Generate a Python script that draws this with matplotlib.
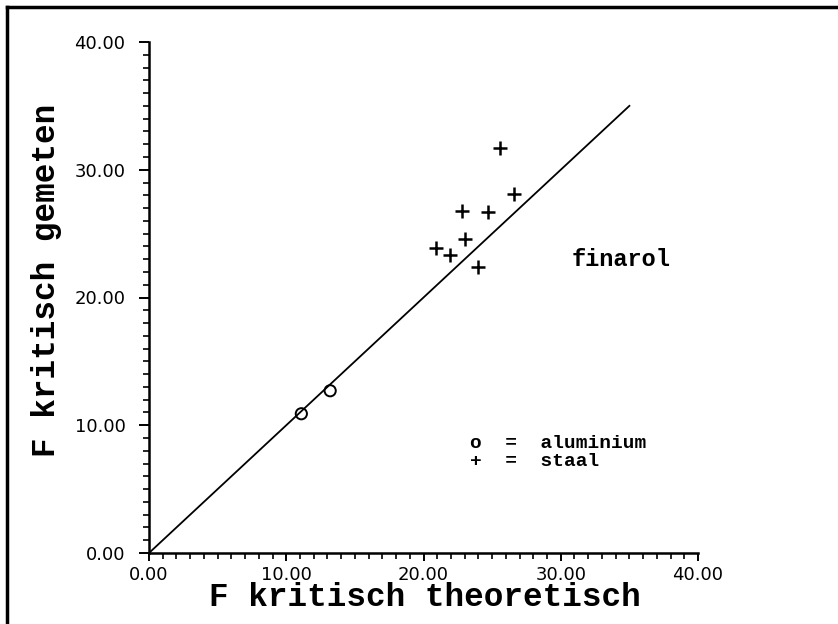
import matplotlib.pyplot as plt
from matplotlib.lines import Line2D
from matplotlib.ticker import MultipleLocator, FormatStrFormatter

alu_theor = [11.1, 13.2]
alu_meas = [10.9, 12.7]

staal_theor = [25.6, 26.6, 22.8, 24.7, 23.0, 20.9, 21.9, 24.0]
staal_meas = [31.7, 28.1, 26.8, 26.7, 24.6, 23.9, 23.3, 22.4]

# reference line F_meas = F_theor
line_x = [0.0, 35.0]
line_y = [0.0, 35.0]

MONO = "Liberation Mono"

fig = plt.figure(figsize=(8.38, 6.24), dpi=100)
ax = fig.add_axes([149 / 838, 1 - 553 / 624, 549 / 838, 511 / 624])

ax.plot(line_x, line_y, color="black", linewidth=1.3)
ax.scatter(alu_theor, alu_meas, s=65, facecolors="none", edgecolors="black",
           linewidths=1.4, zorder=3)
ax.scatter(staal_theor, staal_meas, s=110, marker="+", color="black",
           linewidths=1.8, zorder=3)

ax.set_xlim(0, 40)
ax.set_ylim(0, 40)
for side in ("top", "right"):
    ax.spines[side].set_visible(False)
for side in ("left", "bottom"):
    ax.spines[side].set_linewidth(1.8)

ax.xaxis.set_major_locator(MultipleLocator(10))
ax.xaxis.set_minor_locator(MultipleLocator(1))
ax.yaxis.set_major_locator(MultipleLocator(10))
ax.yaxis.set_minor_locator(MultipleLocator(1))
ax.xaxis.set_major_formatter(FormatStrFormatter("%.2f"))
ax.yaxis.set_major_formatter(FormatStrFormatter("%.2f"))
ax.tick_params(which="major", direction="out", width=1.4, labelsize=13)
ax.tick_params(axis="x", which="major", length=6, pad=3)
ax.tick_params(axis="y", which="major", length=7, pad=10)
ax.tick_params(which="minor", direction="out", length=4, width=1.2)

ax.text(30.8, 23.0, "finarol", fontsize=17, family=MONO, fontweight="bold",
        ha="left", va="center")
ax.text(23.4, 8.6, "o  =  aluminium", fontsize=14, family=MONO,
        fontweight="bold", ha="left", va="center")
ax.text(23.4, 7.2, "+  =  staal", fontsize=14, family=MONO,
        fontweight="bold", ha="left", va="center")

fig.text(425 / 838, 1 - 598 / 624, "F kritisch theoretisch", fontsize=23.5,
         family=MONO, fontweight="bold", ha="center", va="center")
fig.text(46 / 838, 1 - 280 / 624, "F kritisch gemeten", fontsize=23.5,
         family=MONO, fontweight="bold", ha="center", va="center",
         rotation=90)

# frame lines of the scanned page (top and left edge only)
fig.add_artist(Line2D([7 / 838, 1.0], [1 - 7 / 624, 1 - 7 / 624],
                      transform=fig.transFigure, color="black", linewidth=2.5))
fig.add_artist(Line2D([7 / 838, 7 / 838], [0.0, 1 - 7 / 624],
                      transform=fig.transFigure, color="black", linewidth=2.5))

fig.savefig("out.png", dpi=100, facecolor="white")
